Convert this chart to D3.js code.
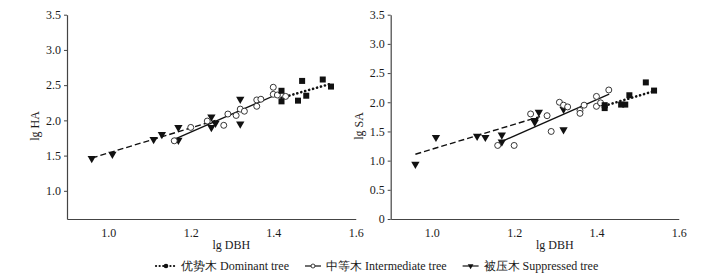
<!DOCTYPE html>
<html><head><meta charset="utf-8">
<script src="https://cdn.jsdelivr.net/npm/d3@7"></script>
<style>body{margin:0;background:#fff}svg{display:block}</style>
</head><body><svg id="c" width="724" height="277"></svg>
<script>
// Data (lg DBH vs lg HA / lg SA)
const domDBH = [1.42, 1.42, 1.46, 1.47, 1.48, 1.52, 1.54];
const domHA  = [2.42, 2.27, 2.28, 2.56, 2.35, 2.58, 2.48];
const domSA  = [1.95, 1.90, 1.96, 1.96, 2.12, 2.34, 2.20];
const intDBH = [1.16, 1.20, 1.24, 1.28, 1.29, 1.31, 1.32, 1.33, 1.36, 1.36, 1.37, 1.40, 1.40, 1.41, 1.43];
const intHA  = [1.71, 1.90, 1.99, 1.93, 2.09, 2.07, 2.16, 2.13, 2.29, 2.20, 2.30, 2.47, 2.37, 2.36, 2.34];
const intSA  = [1.26, 1.26, 1.80, 1.77, 1.50, 2.00, 1.95, 1.92, 1.86, 1.81, 1.95, 2.10, 1.93, 1.99, 2.21];
const supDBH = [0.96, 1.01, 1.11, 1.13, 1.17, 1.17, 1.25, 1.25, 1.26, 1.32, 1.32];
const supHA  = [1.46, 1.52, 1.73, 1.80, 1.90, 1.72, 2.05, 1.90, 1.96, 2.30, 1.95];
const supSA  = [0.94, 1.40, 1.42, 1.40, 1.44, 1.32, 1.69, 1.66, 1.83, 1.88, 1.53];
// fitted lines: [x0, y0, x1, y1]
const fitHA = { dom: [1.42, 2.32, 1.54, 2.52], int: [1.16, 1.73, 1.425, 2.41], sup: [0.96, 1.465, 1.26, 2.0] };
const fitSA = { dom: [1.42, 1.94, 1.54, 2.19], int: [1.164, 1.31, 1.431, 2.14], sup: [0.96, 1.11, 1.263, 1.755] };
const xTicks = [1.0, 1.2, 1.4, 1.6];
const yTicksHA = [1.0, 1.5, 2.0, 2.5, 3.0, 3.5];
const yTicksSA = [0, 0.5, 1.0, 1.5, 2.0, 2.5, 3.0, 3.5];
const legendLabels = ["优势木 Dominant tree", "中等木 Intermediate tree", "被压木 Suppressed tree"];

const svg = d3.select("#c");
const FONT = "'Liberation Serif','Times New Roman',serif";
const INK = "#1a1a1a", AX = "#444";

function panel(cfg) {
  const x = d3.scaleLinear().domain([0.9, 1.6]).range([cfg.x0, cfg.x1]);
  const y = d3.scaleLinear().domain(cfg.ydom).range([219, 14.7]);
  const g = svg.append("g");
  const xa = g.append("g").attr("transform", "translate(0,219)")
    .call(d3.axisBottom(x).tickValues(xTicks).tickFormat(d3.format(".1f")).tickSize(0).tickPadding(9).tickSizeOuter(0));
  const ya = g.append("g").attr("transform", `translate(${cfg.x0},0)`)
    .call(d3.axisLeft(y).tickValues(cfg.yticks).tickFormat(d => d === 0 ? "0" : d.toFixed(1)).tickSize(3).tickPadding(3).tickSizeOuter(0));
  [xa, ya].forEach(a => {
    a.select(".domain").attr("stroke", AX).attr("stroke-width", 1.2);
    a.selectAll(".tick line").attr("stroke", AX);
    a.selectAll("text").attr("font-family", FONT).attr("font-size", 12).attr("fill", INK);
  });
  g.append("text").attr("x", (cfg.x0 + cfg.x1) / 2 + 20).attr("y", 249).attr("text-anchor", "middle")
    .attr("font-family", FONT).attr("font-size", 12).attr("fill", INK).text("lg DBH");
  g.append("text").attr("transform", `translate(${cfg.ylx},126) rotate(-90)`).attr("text-anchor", "middle")
    .attr("dy", "0.35em").attr("font-family", FONT).attr("font-size", 12).attr("fill", INK).text(cfg.ylabel);

  const fit = cfg.fit;
  const line = (f, dash, w, cap) => g.append("line")
    .attr("x1", x(f[0])).attr("y1", y(f[1])).attr("x2", x(f[2])).attr("y2", y(f[3]))
    .attr("stroke", "#111").attr("stroke-width", w).attr("stroke-dasharray", dash).attr("stroke-linecap", cap);
  line(fit.sup, "6,3", 1.4, "butt");
  line(fit.int, null, 1.3, "butt");
  line(fit.dom, "0.1,4", 2.6, "round");

  const tri = d3.symbol().type(d3.symbolTriangle).size(30)();
  g.selectAll(".sup").data(supDBH.map((d, i) => [d, cfg.sup[i]])).join("path")
    .attr("d", tri).attr("fill", "#111")
    .attr("transform", d => `translate(${x(d[0])},${y(d[1])}) rotate(180)`);
  g.selectAll(".int").data(intDBH.map((d, i) => [d, cfg.int[i]])).join("circle")
    .attr("cx", d => x(d[0])).attr("cy", d => y(d[1])).attr("r", 3)
    .attr("fill", "#fff").attr("stroke", "#222").attr("stroke-width", 0.9);
  g.selectAll(".dom").data(domDBH.map((d, i) => [d, cfg.dom[i]])).join("rect")
    .attr("x", d => x(d[0]) - 3).attr("y", d => y(d[1]) - 3).attr("width", 6).attr("height", 6)
    .attr("fill", "#111");
}

panel({ x0: 67, x1: 355.75, ydom: [0.6, 3.5], yticks: yTicksHA, ylabel: "lg HA", ylx: 35,
        dom: domHA, int: intHA, sup: supHA, fit: fitHA });
panel({ x0: 390.7, x1: 678.75, ydom: [0, 3.5], yticks: yTicksSA, ylabel: "lg SA", ylx: 359,
        dom: domSA, int: intSA, sup: supSA, fit: fitSA });

// Legend
const lg = svg.append("g");
let cx = 156;
const ly = 266;
const kinds = ["dom", "int", "sup"];
kinds.forEach((k, i) => {
  const w = k === "dom" ? 20 : 16;
  if (k === "dom") {
    lg.append("line").attr("x1", cx).attr("x2", cx + w).attr("y1", ly).attr("y2", ly)
      .attr("stroke", "#111").attr("stroke-width", 2.2).attr("stroke-dasharray", "0.1,3.5").attr("stroke-linecap", "round");
    lg.append("circle").attr("cx", cx + w / 2).attr("cy", ly).attr("r", 2.3).attr("fill", "#111");
  } else if (k === "int") {
    lg.append("line").attr("x1", cx).attr("x2", cx + w).attr("y1", ly).attr("y2", ly).attr("stroke", "#111").attr("stroke-width", 1.2);
    lg.append("circle").attr("cx", cx + w / 2).attr("cy", ly).attr("r", 2).attr("fill", "#fff").attr("stroke", "#111").attr("stroke-width", 0.8);
  } else {
    lg.append("line").attr("x1", cx).attr("x2", cx + w).attr("y1", ly).attr("y2", ly).attr("stroke", "#111").attr("stroke-width", 1.2);
    lg.append("path").attr("d", d3.symbol().type(d3.symbolTriangle).size(14)()).attr("fill", "#111")
      .attr("transform", `translate(${cx + w / 2},${ly}) rotate(180)`);
  }
  const t = lg.append("text").attr("x", cx + w + 5).attr("y", ly + 4).attr("font-family", FONT)
    .attr("font-size", 12).attr("fill", INK).text(legendLabels[i]);
  cx += w + 5 + t.node().getComputedTextLength() + 16;
});
</script>
</body></html>
